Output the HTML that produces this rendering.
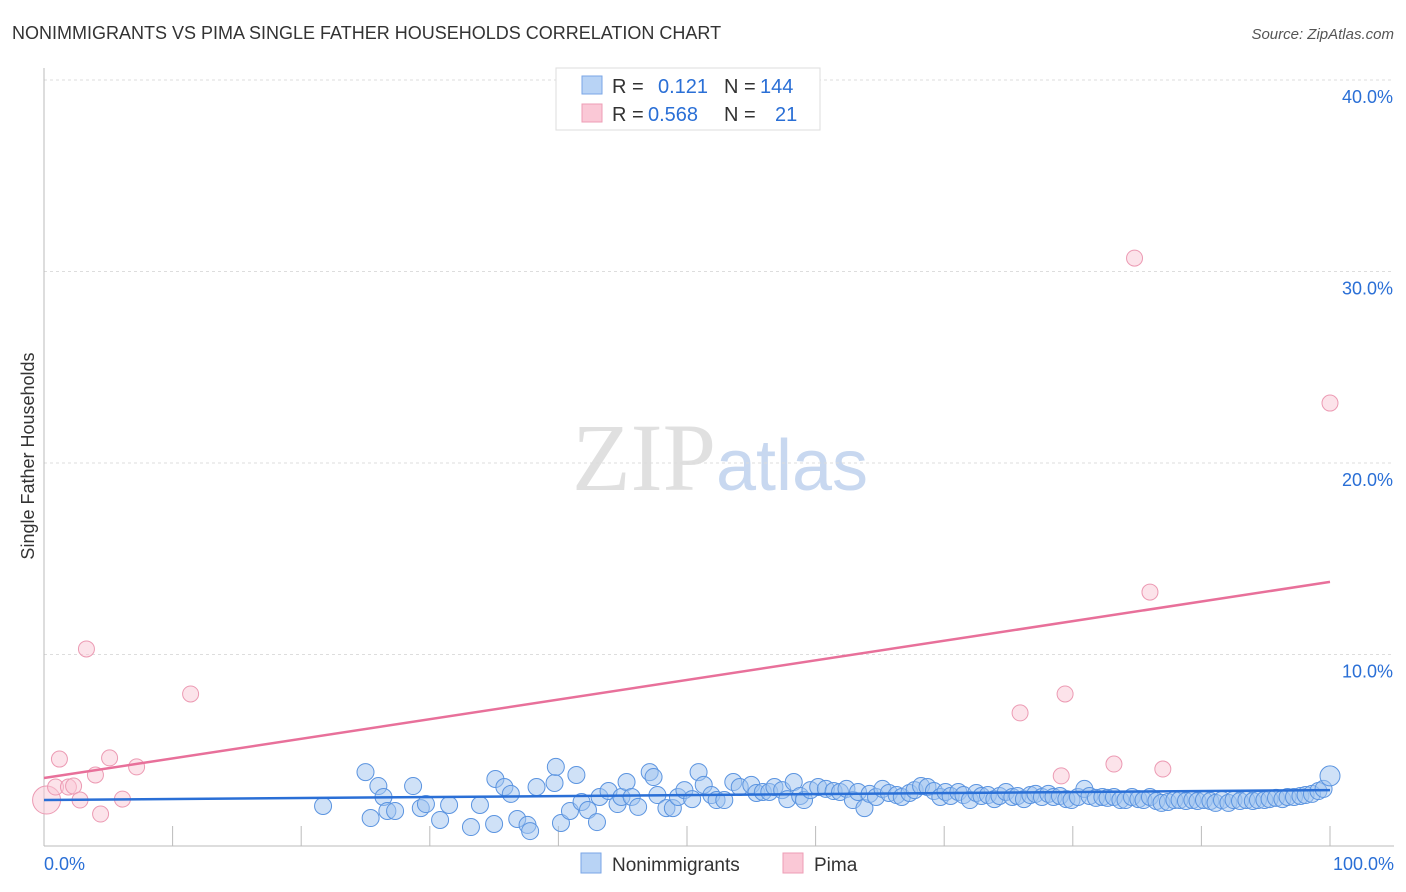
<!DOCTYPE html>
<html><head><meta charset="utf-8">
<style>
body{margin:0;background:#fff;font-family:"Liberation Sans",sans-serif;}
svg{display:block}
</style></head>
<body>
<svg id="chart" width="1406" height="892" xmlns="http://www.w3.org/2000/svg">
<text x="12" y="39" font-size="18" fill="#333">NONIMMIGRANTS VS PIMA SINGLE FATHER HOUSEHOLDS CORRELATION CHART</text>
<text x="1394" y="39" font-size="15" fill="#555" text-anchor="end" font-style="italic">Source: ZipAtlas.com</text>
<text x="720" y="490" font-size="96" fill="#e0e0e0" text-anchor="middle" font-family="Liberation Serif,serif">ZIP<tspan fill="#c8d8f0" font-family="Liberation Sans,sans-serif" font-size="72">atlas</tspan></text>
<g id="grid"></g>
<g id="axes"></g>
<g id="marks"></g>
<text transform="translate(34,456) rotate(-90)" font-size="18" fill="#333" text-anchor="middle">Single Father Households</text>
<g>
<rect x="556" y="68" width="264" height="62" fill="#fff" stroke="#ddd"/>
<rect x="582" y="76" width="20" height="18" fill="#b8d3f5" stroke="#7aa6e6"/>
<rect x="582" y="104" width="20" height="18" fill="#fac8d6" stroke="#ee9db5"/>
<text x="612" y="93" font-size="20" fill="#333">R = <tspan fill="#2a6fd6" x="658">0.121</tspan><tspan x="724">N = </tspan><tspan fill="#2a6fd6" x="760">144</tspan></text>
<text x="612" y="121" font-size="20" fill="#333">R = <tspan fill="#2a6fd6" x="648">0.568</tspan><tspan x="724">N = </tspan><tspan fill="#2a6fd6" x="775">21</tspan></text>
</g>
<g>
<rect x="581" y="853" width="20" height="20" fill="#b8d3f5" stroke="#7aa6e6"/>
<text x="612" y="871" font-size="19" fill="#333">Nonimmigrants</text>
<rect x="783" y="853" width="20" height="20" fill="#fac8d6" stroke="#ee9db5"/>
<text x="814" y="871" font-size="19" fill="#333">Pima</text>
</g>
</svg>
<script>
const yTicks=[10,20,30,40];
const yTickLabels=["10.0%","20.0%","30.0%","40.0%"];
const xTicks=[0,10,20,30,40,50,60,70,80,90,100];
const blueX=[21.7,25.0,25.4,26.0,26.4,26.7,27.3,28.7,29.3,29.7,30.8,31.5,33.2,33.9,35.1,35.0,35.8,36.3,36.8,37.6,37.8,38.3,39.7,39.8,40.2,40.9,41.4,41.8,42.3,43.0,43.2,43.9,44.6,44.9,45.3,45.7,46.2,47.1,47.4,47.7,48.4,48.9,49.3,49.8,50.4,50.9,51.3,51.9,52.3,52.9,53.6,54.1,55.0,55.4,55.9,56.4,56.8,57.4,57.8,58.3,58.8,59.1,59.6,60.2,60.8,61.4,61.9,62.4,62.9,63.3,63.8,64.2,64.7,65.2,65.7,66.3,66.7,67.3,67.7,68.2,68.7,69.2,69.7,70.1,70.5,71.1,71.5,72.0,72.5,72.9,73.4,73.9,74.3,74.8,75.3,75.7,76.2,76.7,77.1,77.6,78.1,78.5,79.0,79.5,79.9,80.4,80.9,81.3,81.8,82.3,82.7,83.2,83.7,84.1,84.6,85.1,85.5,86.0,86.5,86.9,87.4,87.9,88.3,88.8,89.3,89.7,90.2,90.7,91.1,91.6,92.1,92.5,93.0,93.5,94.0,94.4,94.9,95.3,95.8,96.3,96.7,97.2,97.7,98.1,98.6,99.1,99.5,100];
const blueY=[2.09,3.86,1.46,3.13,2.56,1.83,1.83,3.13,1.98,2.19,1.36,2.14,0.99,2.14,3.50,1.15,3.08,2.72,1.41,1.10,0.78,3.08,3.29,4.13,1.20,1.83,3.71,2.30,1.88,1.25,2.56,2.87,2.19,2.56,3.34,2.56,2.04,3.86,3.60,2.66,1.98,1.98,2.56,2.92,2.45,3.86,3.19,2.66,2.40,2.40,3.34,3.08,3.19,2.77,2.82,2.82,3.08,2.92,2.45,3.34,2.61,2.40,2.92,3.08,2.98,2.87,2.82,2.98,2.40,2.82,1.98,2.72,2.56,2.98,2.77,2.66,2.56,2.77,2.92,3.13,3.08,2.87,2.56,2.82,2.61,2.82,2.66,2.40,2.77,2.61,2.66,2.45,2.61,2.82,2.56,2.61,2.45,2.66,2.72,2.56,2.72,2.56,2.61,2.45,2.40,2.56,2.98,2.61,2.51,2.56,2.51,2.56,2.40,2.40,2.56,2.45,2.40,2.56,2.35,2.25,2.30,2.40,2.40,2.35,2.40,2.35,2.40,2.35,2.25,2.40,2.25,2.40,2.35,2.40,2.35,2.40,2.40,2.45,2.51,2.45,2.56,2.56,2.61,2.66,2.72,2.87,2.98,3.66];
const pinkX=[0.2,0.9,1.2,1.9,2.3,2.8,3.3,4.0,4.4,5.1,6.1,7.2,11.4,75.9,79.1,79.4,83.2,84.8,86.0,87.0,100];
const pinkY=[2.4,3.08,4.54,3.08,3.13,2.40,10.29,3.71,1.67,4.60,2.45,4.13,7.94,6.95,3.66,7.94,4.28,30.7,13.26,4.02,23.13];
const blueTrend=[2.40,2.92];
const pinkTrend=[3.55,13.79];

const NS="http://www.w3.org/2000/svg";
const X0=44,X1=1330,Y0=846,PXPER=19.15;
function sx(v){return X0+(X1-X0)*v/100;}
function sy(v){return Y0-v*PXPER;}
function mk(tag,attrs,parent){const e=document.createElementNS(NS,tag);for(const k in attrs)e.setAttribute(k,attrs[k]);parent.appendChild(e);return e;}
const grid=document.getElementById('grid'),axes=document.getElementById('axes'),marks=document.getElementById('marks');
yTicks.forEach((t,i)=>{
  const l=mk('line',{x1:44,x2:1394,y1:sy(t),y2:sy(t),stroke:'#ddd','stroke-dasharray':'3,3'},grid);
  
  
  const tx=mk('text',{x:1393,y:sy(t)+23,'font-size':18,fill:'#2a6fd6','text-anchor':'end'},axes);
  tx.textContent=yTickLabels[i];
  
  
});
const la=mk('line',{x1:44,x2:44,y1:68,y2:846,stroke:'#bbb'},axes);


const lb=mk('line',{x1:44,x2:1394,y1:846,y2:846,stroke:'#bbb'},axes);


xTicks.forEach(t=>{
  const l=mk('line',{x1:sx(t),x2:sx(t),y1:826,y2:846,stroke:'#bbb'},axes);
  
  
});
const xl0=mk('text',{x:44,y:870,'font-size':18,fill:'#2a6fd6'},axes);xl0.textContent='0.0%';


const xl1=mk('text',{x:1394,y:870,'font-size':18,fill:'#2a6fd6','text-anchor':'end'},axes);xl1.textContent='100.0%';



blueX.forEach((x,i)=>{
  const r=(i===blueX.length-1)?10:8.5;
  const c=mk('circle',{cx:sx(x),cy:sy(blueY[i]),r:r,fill:'rgba(160,196,240,0.5)',stroke:'#5b94e0','stroke-width':1},marks);
  
  
});
pinkX.forEach((x,i)=>{
  const r=(i===0)?14:8;
  const c=mk('circle',{cx:sx(x),cy:sy(pinkY[i]),r:r,fill:'rgba(250,200,214,0.5)',stroke:'#ec9ab3','stroke-width':1},marks);
  
  
});
const bt=mk('line',{x1:sx(0),x2:sx(100),y1:sy(blueTrend[0]),y2:sy(blueTrend[1]),stroke:'#2a6fd6','stroke-width':2.5},marks);


const pt=mk('line',{x1:sx(0),x2:sx(100),y1:sy(pinkTrend[0]),y2:sy(pinkTrend[1]),stroke:'#e8709a','stroke-width':2.5},marks);


</script>
</body></html>
